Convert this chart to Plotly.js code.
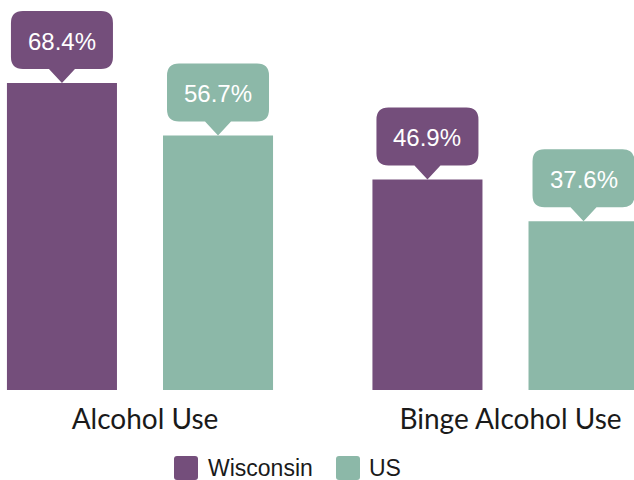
<!DOCTYPE html>
<html>
<head>
<meta charset="utf-8">
<script src="https://cdn.plot.ly/plotly-3.0.1.min.js"></script>
<style>html,body{margin:0;padding:0;background:#fff;}#chart{width:634px;height:480px;}</style>
</head>
<body>
<div id="chart"></div>
<script>
// ---- data ----
var categories = ["Alcohol Use", "Binge Alcohol Use"];
var seriesNames = ["Wisconsin", "US"];
var wisconsinValues = [68.4, 46.9];
var usValues = [56.7, 37.6];
var seriesColors = ["#744e7b", "#8cb8a8"];

// ---- layout constants ----
var BARGAP = 0.146, BARGROUPGAP = 0.295;
var slot = (1 - BARGAP) / 2;
var offsets = [-slot / 2, slot / 2];
var seriesValues = [wisconsinValues, usValues];

var traces = seriesValues.map(function (vals, s) {
  return {
    type: "bar",
    name: seriesNames[s],
    x: categories,
    y: vals,
    marker: { color: seriesColors[s] },
    hoverinfo: "none",
    showlegend: false
  };
});

var calloutPath = "M0,0 L-13,14 L-39,14 Q-51,14 -51,26 L-51,60 Q-51,72 -39,72 L39,72 Q51,72 51,60 L51,26 Q51,14 39,14 L13,14 Z";
var shapes = [];
var annotations = [];
seriesValues.forEach(function (vals, s) {
  vals.forEach(function (v, i) {
    var xc = i + offsets[s];
    shapes.push({
      type: "path", xref: "x", yref: "y",
      xsizemode: "pixel", ysizemode: "pixel",
      xanchor: xc, yanchor: v,
      path: calloutPath,
      fillcolor: seriesColors[s], line: { width: 0 }, layer: "above"
    });
    annotations.push({
      xref: "x", yref: "y", x: xc, y: v,
      text: v.toFixed(1) + "%",
      showarrow: false, yshift: 42,
      xanchor: "center", yanchor: "middle",
      font: { family: "Liberation Sans, Arial, sans-serif", size: 24, color: "#ffffff" }
    });
  });
});

// manual legend (large rounded swatches)
var legendSwatchX = [186 / 634, 348 / 634];
var legendTextX = [206 / 634, 367 / 634];
var legendY = -78 / 390;
seriesNames.forEach(function (name, s) {
  shapes.push({
    type: "path", xref: "paper", yref: "paper",
    xsizemode: "pixel", ysizemode: "pixel",
    xanchor: legendSwatchX[s], yanchor: legendY,
    path: "M-9,-12 L9,-12 Q12,-12 12,-9 L12,9 Q12,12 9,12 L-9,12 Q-12,12 -12,9 L-12,-9 Q-12,-12 -9,-12 Z",
    fillcolor: seriesColors[s], line: { width: 0 }
  });
  annotations.push({
    xref: "paper", yref: "paper", x: legendTextX[s], y: legendY,
    text: name, showarrow: false, xanchor: "left", yanchor: "middle",
    font: { family: "Liberation Sans, Arial, sans-serif", size: 23, color: "#1a1a1a" }
  });
});

var layout = {
  width: 634, height: 480,
  margin: { l: 0, r: 0, t: 0, b: 90, pad: 0 },
  paper_bgcolor: "#ffffff", plot_bgcolor: "#ffffff",
  barmode: "group", bargap: BARGAP, bargroupgap: BARGROUPGAP,
  showlegend: false,
  xaxis: {
    type: "category", range: [-0.383, 1.3516],
    showgrid: false, zeroline: false, showline: false, ticks: "",
    ticklabelshift: 5, ticklabelstandoff: 10,
    tickfont: { family: "Lato, sans-serif", size: 28, color: "#1a1a1a" },
    fixedrange: true
  },
  yaxis: {
    range: [0, 86.9], visible: false, showgrid: false, zeroline: false, fixedrange: true
  },
  shapes: shapes,
  annotations: annotations
};

Plotly.newPlot("chart", traces, layout, { displayModeBar: false, staticPlot: true });
</script>
</body>
</html>
